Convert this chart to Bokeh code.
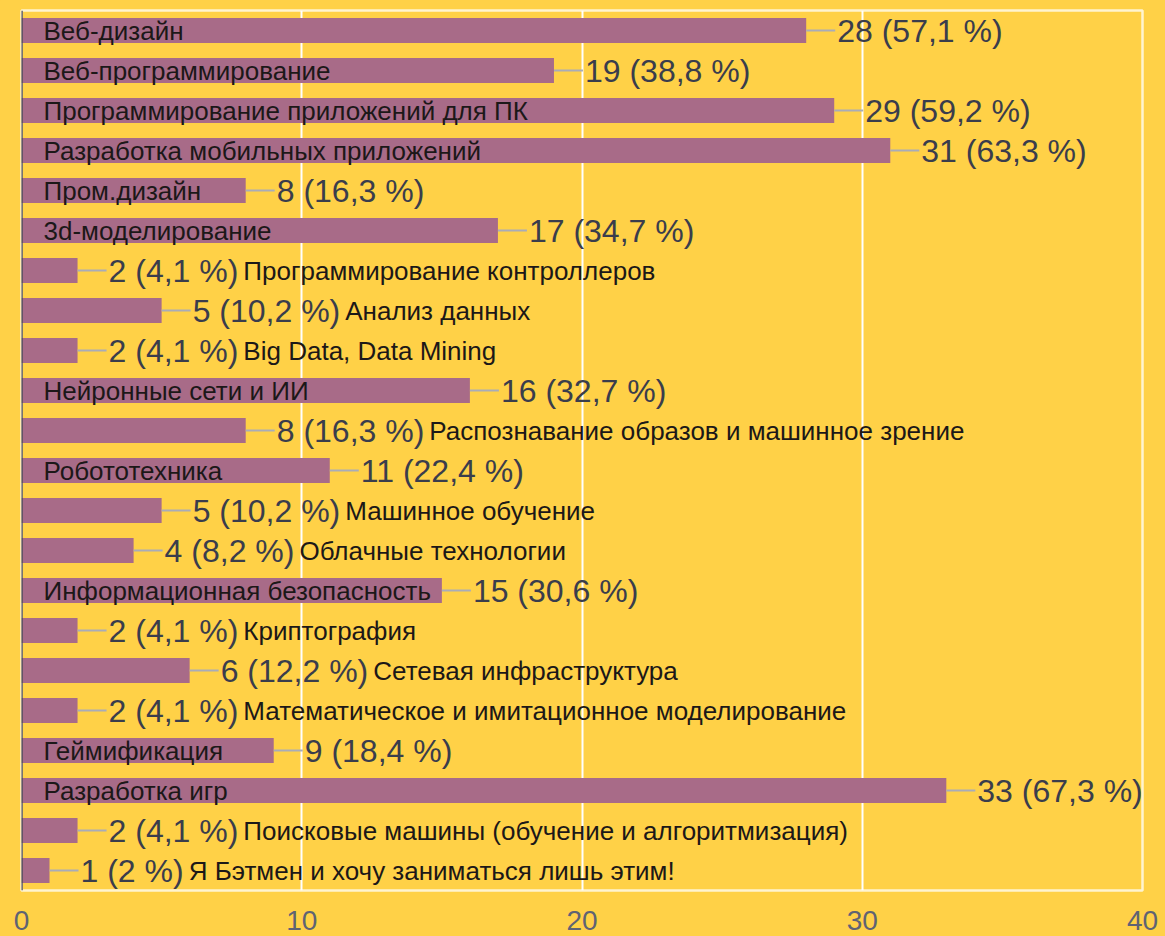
from bokeh.plotting import figure
from bokeh.models import ColumnDataSource, Range1d, Span, FixedTicker
from bokeh.core.properties import value
from bokeh.embed import file_html
from bokeh.resources import INLINE

# ---------------- data ----------------
categories = [
    "Веб-дизайн",
    "Веб-программирование",
    "Программирование приложений для ПК",
    "Разработка мобильных приложений",
    "Пром.дизайн",
    "3d-моделирование",
    "Программирование контроллеров",
    "Анализ данных",
    "Big Data, Data Mining",
    "Нейронные сети и ИИ",
    "Распознавание образов и машинное зрение",
    "Робототехника",
    "Машинное обучение",
    "Облачные технологии",
    "Информационная безопасность",
    "Криптография",
    "Сетевая инфраструктура",
    "Математическое и имитационное моделирование",
    "Геймификация",
    "Разработка игр",
    "Поисковые машины (обучение и алгоритмизация)",
    "Я Бэтмен и хочу заниматься лишь этим!",
]
counts = [28, 19, 29, 31, 8, 17, 2, 5, 2, 16, 8, 11, 5, 4, 15, 2, 6, 2, 9, 33, 2, 1]
percents = ["57,1", "38,8", "59,2", "63,3", "16,3", "34,7", "4,1", "10,2", "4,1",
            "32,7", "16,3", "22,4", "10,2", "8,2", "30,6", "4,1", "12,2", "4,1",
            "18,4", "67,3", "4,1", "2"]
x_ticks = [0, 10, 20, 30, 40]
x_max = 40

# ---------------- style ----------------
BG = "#FFD147"
BAR = "#A86B88"
CONN = "#A9ACB8"
VAL_COLOR = "#3a3d4c"
CAT_COLOR = "#1c1818"
TICK_COLOR = "#5f6373"
FONT = "Liberation Sans"
VAL_SIZE = 32
CAT_SIZE = 26
W, H = 1160, 934
BL, BR, BT, BB = 21, 18, 10, 44
FRAME_W = W - BL - BR
PX = FRAME_W / x_max
CONN_PX = 29
VAL_OFF = 31
INSIDE_OFF = 22
GAP = 5

# Arial / Liberation Sans advance widths (per 1000 em) for width estimates
_W = {}
def _set(chars, w):
    for c in chars:
        _W[c] = w
_set("0123456789", 556)
_set(" ,.!", 278); _set("()-", 333); _set("%", 889)
_set("abdeghnopqu", 556); _set("ckszvxy", 500); _set("ijl", 222)
_set("ft", 278); _set("r", 333); _set("m", 833); _set("w", 722)
_set("B", 667); _set("D", 722); _set("M", 833)
cyr_up = dict(zip("АБВГДЕЖЗИЙКЛМНОПРСТУФХЦЧШЩЪЫЬЭЮЯ",
                  [667, 656, 667, 542, 677, 667, 923, 604, 719, 719, 583, 656, 833, 722,
                   778, 719, 667, 722, 611, 635, 760, 667, 740, 667, 917, 938, 792, 885,
                   656, 719, 1010, 722]))
cyr_lo = dict(zip("абвгдежзийклмнопрстуфхцчшщъыьэюя",
                  [556, 573, 531, 365, 583, 556, 669, 458, 559, 559, 438, 583, 688, 552,
                   556, 542, 556, 500, 458, 500, 823, 500, 573, 521, 802, 823, 625, 719,
                   521, 510, 750, 542]))
_W.update(cyr_up); _W.update(cyr_lo)

def text_width(s, size):
    return sum(_W.get(c, 556) for c in s) * size / 1000.0

n = len(categories)
ys = [n - 1 - i for i in range(n)]
val_text = [f"{c} ({p} %)" for c, p in zip(counts, percents)]
conn_end = [c + CONN_PX / PX for c in counts]
cat_x, cat_off = [], []
for cat, c, vt in zip(categories, counts, val_text):
    if text_width(cat, CAT_SIZE) + INSIDE_OFF + 4 <= c * PX:
        cat_x.append(0)
        cat_off.append(INSIDE_OFF)
    else:
        cat_x.append(c)
        cat_off.append(VAL_OFF + text_width(vt, VAL_SIZE) + GAP)

src = ColumnDataSource(dict(y=ys, v=counts, ve=conn_end, vt=val_text,
                            cat=categories, cx=cat_x, coff=cat_off))

p = figure(width=W, height=H, x_range=Range1d(0, x_max), y_range=Range1d(-0.5, n - 0.5),
           output_backend="svg", toolbar_location=None, y_axis_location=None,
           min_border_left=BL, min_border_right=BR, min_border_top=BT, min_border_bottom=BB)
p.background_fill_color = BG
p.border_fill_color = BG
p.outline_line_color = "#FFF4D0"
p.outline_line_width = 2.5

p.ygrid.visible = False
p.xaxis.ticker = FixedTicker(ticks=x_ticks)
p.xgrid.ticker = FixedTicker(ticks=x_ticks)
p.xgrid.grid_line_color = "#FFFFFF"
p.xgrid.grid_line_width = 2
p.xaxis.axis_line_color = None
p.xaxis.major_tick_line_color = None
p.xaxis.minor_tick_line_color = None
p.xaxis.major_label_standoff = 14
p.xaxis.major_label_text_font = FONT
p.xaxis.major_label_text_font_size = "28px"
p.xaxis.major_label_text_color = TICK_COLOR

p.hbar(y="y", left=0, right="v", height=0.62, fill_color=BAR, line_color=None, source=src)
p.segment(x0="v", x1="ve", y0="y", y1="y", line_color=CONN, line_width=2, source=src)
p.add_layout(Span(location=0, dimension="height", line_color="#4b4b58", line_width=2.5))

p.text(x="v", y="y", text="vt", x_offset=VAL_OFF, text_font=value(FONT),
       text_font_size=f"{VAL_SIZE}px", text_color=VAL_COLOR, text_baseline="middle",
       text_align="left", source=src)
p.text(x="cx", y="y", text="cat", x_offset="coff", text_font=value(FONT),
       text_font_size=f"{CAT_SIZE}px", text_color=CAT_COLOR, text_baseline="middle",
       text_align="left", source=src)

html = file_html(p, INLINE)
html = html.replace("</head>", f"<style>html,body{{background:{BG};}}</style></head>", 1)
open("out.html", "w").write(html)
